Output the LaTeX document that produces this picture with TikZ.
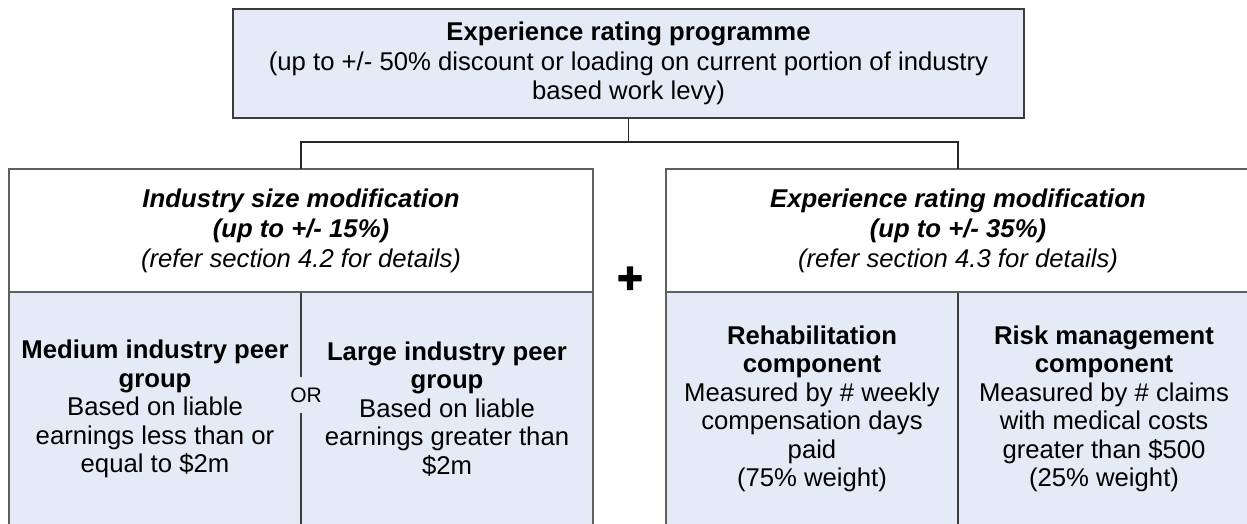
\documentclass[tikz,border=0pt]{standalone}
\usepackage{fontspec}
\setmainfont{Liberation Sans}
\newfontfamily\plusfont[FakeBold=3]{Liberation Sans Bold}
\definecolor{cellC}{RGB}{229,235,246}
\definecolor{edgeC}{RGB}{60,60,60}
\definecolor{outerC}{RGB}{95,95,95}
\definecolor{linkC}{RGB}{40,40,40}
\begin{document}
\begin{tikzpicture}[x=1pt,y=-1pt,
  every node/.style={inner sep=0pt, outer sep=0pt},
  topbox/.style={rectangle, draw=edgeC, line width=1.2pt, fill=cellC,
    minimum width=791pt, minimum height=109pt, align=center,
    font=\fontsize{25.7}{29.5}\selectfont},
  headbox/.style={rectangle, draw=outerC, line width=1.3pt, fill=white,
    minimum width=584pt, minimum height=123pt, align=center,
    font=\fontsize{25.7}{30}\selectfont},
  cellbox/.style={rectangle, draw=edgeC, line width=1.2pt, fill=cellC,
    minimum width=292pt, minimum height=234pt, align=center,
    font=\fontsize{25.7}{28.5}\selectfont},
  ortag/.style={rectangle, fill=cellC, minimum height=36pt, inner xsep=2pt,
    font=\fontsize{21}{21}\selectfont},
  link/.style={draw=linkC, line width=1.1pt}]
\useasboundingbox (0,0) rectangle (1247,524);
\clip (0,0) rectangle (1247,524);

% programme box
\node[topbox] (prog) at (628.5,63.5)
  {\textbf{Experience rating programme}\\
   (up to +/- 50\% discount or loading on current portion of industry\\
   based work levy)};

% industry size modification: components
\node[cellbox] (lmed) at (155,409)
  {\textbf{Medium industry peer}\\ \textbf{group}\\
   Based on liable\\ earnings less than or\\ equal to \$2m};
\node[cellbox] (llarge) at (447,409)
  {\textbf{Large industry peer}\\ \textbf{group}\\
   Based on liable\\ earnings greater than\\ \$2m};
\node[ortag] (or) at (306,395) {OR};

% experience rating modification: components
\node[cellbox] (rreh) at (812,409)
  {\textbf{Rehabilitation}\\ \textbf{component}\\
   Measured by \# weekly\\ compensation days\\ paid\\ (75\% weight)};
\node[cellbox] (rrisk) at (1104,409)
  {\textbf{Risk management}\\ \textbf{component}\\
   Measured by \# claims\\ with medical costs\\ greater than \$500\\ (25\% weight)};

% modification headers
\node[headbox] (lhead) at (301,230.5)
  {\textbf{\itshape Industry size modification}\\
   \textbf{\itshape (up to +/- 15\%)}\\
   \textit{(refer section 4.2 for details)}};
\node[headbox] (rhead) at (958,230.5)
  {\textbf{\itshape Experience rating modification}\\
   \textbf{\itshape (up to +/- 35\%)}\\
   \textit{(refer section 4.3 for details)}};

% outer frames of the two modification blocks
\draw[draw=outerC, line width=1.3pt] (lhead.north west) rectangle (llarge.south east);
\draw[draw=outerC, line width=1.3pt] (rhead.north west) rectangle (rrisk.south east);

% plus sign between the blocks
\node (plus) at (630,280) {\fontsize{44}{44}\plusfont +};

% connectors
\coordinate (j) at (prog.south |- 0,142);
\draw[link] (prog.south) -- (j);
\draw[link] (lhead.north) |- (j) -| (rhead.north);
\end{tikzpicture}
\end{document}
